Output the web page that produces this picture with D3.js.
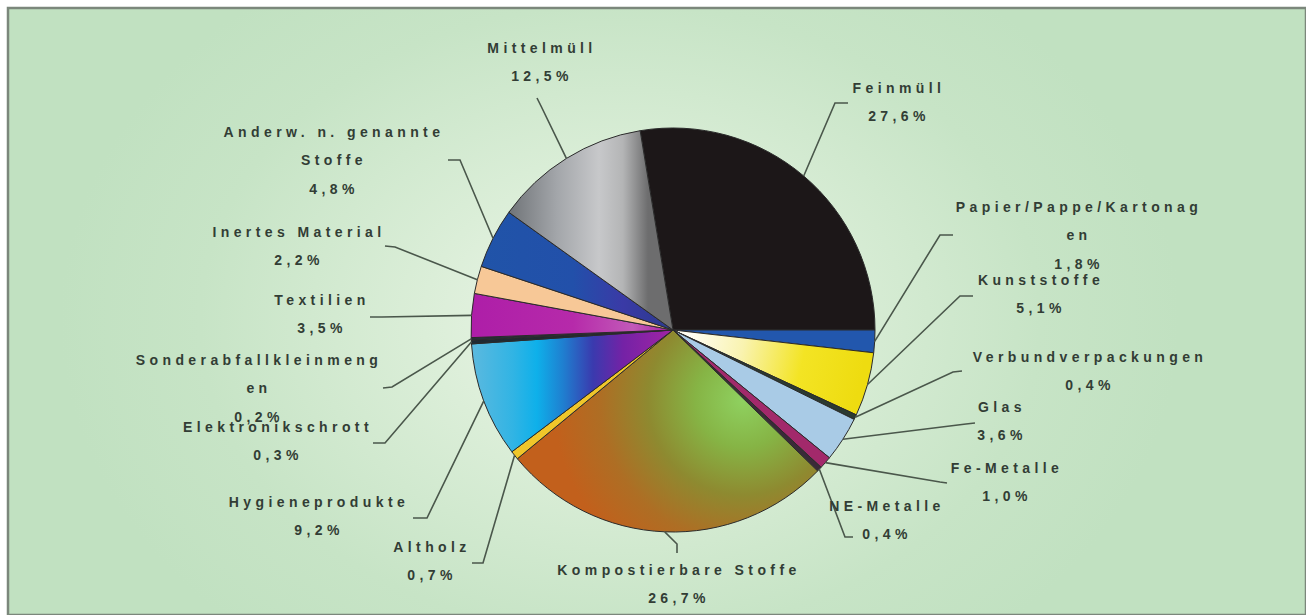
<!DOCTYPE html>
<html lang="de">
<head>
<meta charset="utf-8">
<script src="https://cdn.jsdelivr.net/npm/d3@7"></script>
<style>
  html, body { margin: 0; padding: 0; background: #ffffff; }
  svg { display: block; }
  .lbl { font-family: "Liberation Sans", Arial, sans-serif; font-weight: bold; font-size: 14px; letter-spacing: 4.4px; fill: #323d35; }
</style>
</head>
<body>
<svg id="chart" width="1306" height="615"></svg>
<script>
// Zusammensetzung Restabfall (Anteile in %), im Uhrzeigersinn
const categories = [
  "Feinmüll", "Papier/Pappe/Kartonag\nen", "Kunststoffe", "Verbundverpackungen",
  "Glas", "Fe-Metalle", "NE-Metalle", "Kompostierbare Stoffe", "Altholz",
  "Hygieneprodukte", "Elektronikschrott", "Sonderabfallkleinmeng\nen", "Textilien",
  "Inertes Material", "Anderw. n. genannte\nStoffe", "Mittelmüll"
];
const values = [27.6, 1.8, 5.1, 0.4, 3.6, 1.0, 0.4, 26.7, 0.7, 9.2, 0.3, 0.2, 3.5, 2.2, 4.8, 12.5];

// Fill for each slice (plain colours or gradient ids)
const fills = [
  "#1c1718", "#2257ad", "url(#gKunst)", "#2b3a31", "#a9cbe6", "#a2296b",
  "#3a2a38", "url(#gKompost)", "#f0c62a", "url(#gHygiene)", "#1f2a33",
  "#26303a", "url(#gTextil)", "#f7c897", "url(#gAnderw)", "url(#gMittel)"
];

// Label placement: centre x / y of first text line, leader end at label, leader elbow
const labelLayout = [
  { x: 897,  y: 88,  end: [848, 103], elbow: [835, 103] },
  { x: 1077, y: 207, end: [953, 235], elbow: [940, 235] },
  { x: 1039, y: 280, end: [973, 296], elbow: [960, 296] },
  { x: 1088, y: 357, end: [962, 371], elbow: [953, 372] },
  { x: 1000, y: 407, end: [975, 423], elbow: [966, 424] },
  { x: 1005, y: 468, end: [947, 483], elbow: [940, 482] },
  { x: 885,  y: 506, end: [853, 537], elbow: [845, 537] },
  { x: 677,  y: 570, end: [677, 553], elbow: [677, 544] },
  { x: 430,  y: 547, end: [472, 563], elbow: [483, 563] },
  { x: 317,  y: 502, end: [413, 518], elbow: [427, 518] },
  { x: 276,  y: 427, end: [373, 443], elbow: [385, 443] },
  { x: 257,  y: 360, end: [383, 388], elbow: [392, 387] },
  { x: 320,  y: 300, end: [370, 317], elbow: [382, 317] },
  { x: 297,  y: 232, end: [385, 246], elbow: [395, 247] },
  { x: 332,  y: 132, end: [448, 160], elbow: [460, 160] },
  { x: 540,  y: 48,  end: [537, 98],  elbow: [541, 106] }
];

const W = 1306, H = 615;
const cx = 673, cy = 330, radius = 202;
const lineStep = 28.5;

const de = d3.formatLocale({ decimal: ",", thousands: ".", grouping: [3], currency: ["", " €"] });
const fmt = de.format(".1f");

const svg = d3.select("#chart");
const defs = svg.append("defs");

// background panel glow
const bg = defs.append("radialGradient").attr("id", "gBg")
  .attr("gradientUnits", "userSpaceOnUse").attr("cx", 620).attr("cy", 320).attr("r", 560)
  .attr("gradientTransform", "translate(620,320) scale(1,0.75) translate(-620,-320)");
bg.append("stop").attr("offset", 0).attr("stop-color", "#eef6ea");
bg.append("stop").attr("offset", 0.35).attr("stop-color", "#dbeed8");
bg.append("stop").attr("offset", 0.75).attr("stop-color", "#c7e4c6");
bg.append("stop").attr("offset", 1).attr("stop-color", "#c1e1c1");

// slice gradients, in coordinates relative to the pie centre
function linear(id, x1, y1, x2, y2, stops) {
  const gr = defs.append("linearGradient").attr("id", id).attr("gradientUnits", "userSpaceOnUse")
    .attr("x1", x1).attr("y1", y1).attr("x2", x2).attr("y2", y2);
  stops.forEach(([o, c]) => gr.append("stop").attr("offset", o).attr("stop-color", c));
}
linear("gKunst", 20, 0, 190, 40, [[0, "#fffdf2"], [0.3, "#f9f3b0"], [0.65, "#f3e424"], [1, "#eedc10"]]);
linear("gHygiene", -200, 0, 0, 0, [[0, "#5ab9df"], [0.2, "#31b4e4"], [0.32, "#0eb0ea"], [0.45, "#1f7fd0"], [0.6, "#3a3aae"], [0.75, "#7422a6"], [1, "#a224a4"]]);
linear("gTextil", -200, 0, 0, 0, [[0, "#ae1ea8"], [0.5, "#b62aaa"], [0.8, "#c25ab8"], [1, "#a81ca4"]]);
linear("gAnderw", -200, 0, 0, 0, [[0, "#2054a8"], [0.5, "#2250aa"], [0.75, "#3a3aa6"], [1, "#2a3a8c"]]);
linear("gMittel", -165, 0, -25, 0, [[0, "#6f7377"], [0.35, "#a3a6aa"], [0.65, "#c7c8ca"], [0.82, "#b4b5b6"], [1, "#6d6d6e"]]);
const gk = defs.append("radialGradient").attr("id", "gKompost").attr("gradientUnits", "userSpaceOnUse")
  .attr("cx", 70).attr("cy", 70).attr("r", 190);
[[0, "#8fd160"], [0.25, "#86b445"], [0.5, "#8e8a30"], [0.75, "#ae6e24"], [1, "#c2601c"]]
  .forEach(([o, c]) => gk.append("stop").attr("offset", o).attr("stop-color", c));

// panel
svg.append("rect").attr("x", 8).attr("y", 8).attr("width", W - 8).attr("height", H - 8)
  .attr("fill", "url(#gBg)").attr("stroke", "#7b877b").attr("stroke-width", 2.5);

// pie: first slice ends at 3 o'clock
const start = Math.PI / 2 - (values[0] / 100) * 2 * Math.PI;
const pie = d3.pie().sort(null).startAngle(start).endAngle(start + 2 * Math.PI);
const arcs = pie(values);
const arc = d3.arc().innerRadius(0).outerRadius(radius);

const g = svg.append("g").attr("transform", `translate(${cx},${cy})`);
g.selectAll("path.slice").data(arcs).join("path")
  .attr("class", "slice")
  .attr("d", arc)
  .attr("fill", (d, i) => fills[i])
  .attr("stroke", "#2b2b2b").attr("stroke-width", 1).attr("stroke-linejoin", "round");

// leader lines from slice rim to label
const rimPoint = d => {
  const a = (d.startAngle + d.endAngle) / 2;
  return [cx + radius * Math.sin(a), cy - radius * Math.cos(a)];
};
svg.append("g").selectAll("path").data(arcs).join("path")
  .attr("d", (d, i) => d3.line()([rimPoint(d), labelLayout[i].elbow, labelLayout[i].end]))
  .attr("fill", "none").attr("stroke", "#4a574b").attr("stroke-width", 1.6);

// labels: name lines + percentage
const labels = svg.append("g");
arcs.forEach((d, i) => {
  const lines = categories[i].split("\n").concat([fmt(values[i]) + "%"]);
  const L = labelLayout[i];
  const t = labels.append("text").attr("class", "lbl").attr("text-anchor", "middle");
  lines.forEach((s, k) => {
    t.append("tspan").attr("x", L.x + 2).attr("y", L.y + k * lineStep).attr("dy", "0.35em").text(s);
  });
});
</script>
</body>
</html>
